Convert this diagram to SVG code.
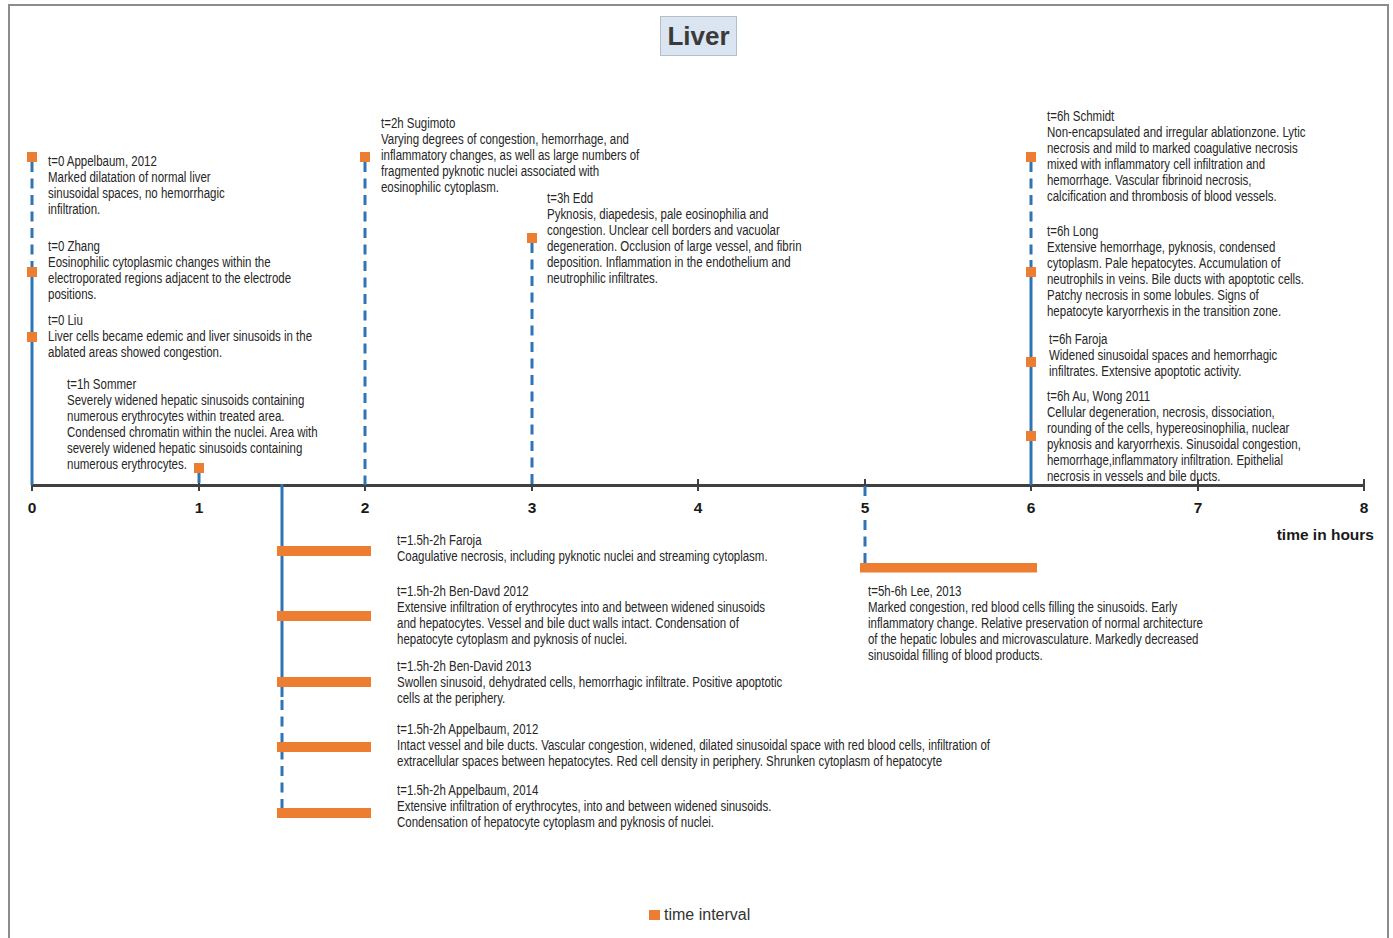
<svg xmlns="http://www.w3.org/2000/svg" width="1393" height="938" viewBox="0 0 1393 938">
<style>
.t{font-family:"Liberation Sans",Arial,sans-serif;font-size:14px;fill:#262626}
.ax{font-family:"Liberation Sans",Arial,sans-serif;font-size:15.5px;font-weight:bold;fill:#1a1a1a}
.sq{fill:#ed7d31}
.bar{fill:#ed7d31}
.sol{stroke:#2e75b6;stroke-width:3;fill:none}
.dsh{stroke:#2e75b6;stroke-width:3;fill:none;stroke-dasharray:10 6.5}
.axis{stroke:#404040;stroke-width:3;fill:none}
.tick{stroke:#404040;stroke-width:2;fill:none}
</style>
<rect x="0" y="0" width="1393" height="938" fill="#ffffff"/>
<rect x="9" y="5" width="1379" height="945" fill="none" stroke="#8c8c8c" stroke-width="2"/>

<g id="title">
<rect x="660.5" y="16.5" width="76" height="39" fill="#dbe5f1" stroke="#b4bfcc" stroke-width="1"/>
<text x="698.5" y="45" text-anchor="middle" style="font-family:'Liberation Sans',Arial,sans-serif;font-size:26px;font-weight:bold;fill:#3a3a3a">Liver</text>
</g>

<g id="connectors">
<path class="axis" d="M32 485.5H1365"/>
<path class="tick" d="M32 479V491M199 479V491M365 479V491M532 479V491M698 479V491M865 479V491M1031 479V491M1198 479V491M1364 479V491"/>
<path class="dsh" d="M32 162V263"/>
<path class="sol" d="M32 263V485"/>
<path class="dsh" d="M199 473V485"/>
<path class="dsh" d="M365 162V485"/>
<path class="dsh" d="M532 243V485"/>
<path class="dsh" d="M1031 162V260"/>
<path class="sol" d="M1031 260V485"/>
<path class="sol" d="M282 484V697"/>
<path class="dsh" d="M282 700V810"/>
<path class="dsh" d="M865 486V496"/>
<path class="dsh" d="M865 520V563"/>
</g>

<g id="axis-labels">
<text class="ax" x="32" y="513" text-anchor="middle">0</text>
<text class="ax" x="199" y="513" text-anchor="middle">1</text>
<text class="ax" x="365" y="513" text-anchor="middle">2</text>
<text class="ax" x="532" y="513" text-anchor="middle">3</text>
<text class="ax" x="698" y="513" text-anchor="middle">4</text>
<text class="ax" x="865" y="513" text-anchor="middle">5</text>
<text class="ax" x="1031" y="513" text-anchor="middle">6</text>
<text class="ax" x="1198" y="513" text-anchor="middle">7</text>
<text class="ax" x="1364" y="513" text-anchor="middle">8</text>
<text class="ax" x="1374" y="540" text-anchor="end">time in hours</text>
</g>

<g id="n-appelbaum-2012-t0">
<rect class="sq" x="27" y="152" width="10" height="10"/>
<text class="t" x="48" y="166" transform="matrix(0.82 0 0 1 8.64 0)"><tspan x="48">t=0 Appelbaum, 2012</tspan><tspan x="48" dy="16">Marked dilatation of normal liver</tspan><tspan x="48" dy="16">sinusoidal spaces, no hemorrhagic</tspan><tspan x="48" dy="16">infiltration.</tspan></text>
</g>

<g id="n-zhang">
<rect class="sq" x="27" y="267" width="10" height="10"/>
<text class="t" x="48" y="251" transform="matrix(0.82 0 0 1 8.64 0)"><tspan x="48">t=0 Zhang</tspan><tspan x="48" dy="16">Eosinophilic cytoplasmic changes within the</tspan><tspan x="48" dy="16">electroporated regions adjacent to the electrode</tspan><tspan x="48" dy="16">positions.</tspan></text>
</g>

<g id="n-liu">
<rect class="sq" x="27" y="332" width="10" height="10"/>
<text class="t" x="48" y="325" transform="matrix(0.82 0 0 1 8.64 0)"><tspan x="48">t=0 Liu</tspan><tspan x="48" dy="16">Liver cells became edemic and liver sinusoids in the</tspan><tspan x="48" dy="16">ablated areas showed congestion.</tspan></text>
</g>

<g id="n-sommer">
<rect class="sq" x="194" y="463" width="10" height="10"/>
<text class="t" x="67" y="389" transform="matrix(0.82 0 0 1 12.06 0)"><tspan x="67">t=1h Sommer</tspan><tspan x="67" dy="16">Severely widened hepatic sinusoids containing</tspan><tspan x="67" dy="16">numerous erythrocytes within treated area.</tspan><tspan x="67" dy="16">Condensed chromatin within the nuclei. Area with</tspan><tspan x="67" dy="16">severely widened hepatic sinusoids containing</tspan><tspan x="67" dy="16">numerous erythrocytes.</tspan></text>
</g>

<g id="n-sugimoto">
<rect class="sq" x="360" y="152" width="10" height="10"/>
<text class="t" x="381" y="128" transform="matrix(0.82 0 0 1 68.58 0)"><tspan x="381">t=2h Sugimoto</tspan><tspan x="381" dy="16">Varying degrees of congestion, hemorrhage, and</tspan><tspan x="381" dy="16">inflammatory changes, as well as large numbers of</tspan><tspan x="381" dy="16">fragmented pyknotic nuclei associated with</tspan><tspan x="381" dy="16">eosinophilic cytoplasm.</tspan></text>
</g>

<g id="n-edd">
<rect class="sq" x="527" y="233" width="10" height="10"/>
<text class="t" x="547" y="203" transform="matrix(0.82 0 0 1 98.46 0)"><tspan x="547">t=3h Edd</tspan><tspan x="547" dy="16">Pyknosis, diapedesis, pale eosinophilia and</tspan><tspan x="547" dy="16">congestion. Unclear cell borders and vacuolar</tspan><tspan x="547" dy="16">degeneration. Occlusion of large vessel, and fibrin</tspan><tspan x="547" dy="16">deposition. Inflammation in the endothelium and</tspan><tspan x="547" dy="16">neutrophilic infiltrates.</tspan></text>
</g>

<g id="n-schmidt">
<rect class="sq" x="1026" y="152" width="10" height="10"/>
<text class="t" x="1047" y="121" transform="matrix(0.82 0 0 1 188.46 0)"><tspan x="1047">t=6h Schmidt</tspan><tspan x="1047" dy="16">Non-encapsulated and irregular ablationzone. Lytic</tspan><tspan x="1047" dy="16">necrosis and mild to marked coagulative necrosis</tspan><tspan x="1047" dy="16">mixed with inflammatory cell infiltration and</tspan><tspan x="1047" dy="16">hemorrhage. Vascular fibrinoid necrosis,</tspan><tspan x="1047" dy="16">calcification and thrombosis of blood vessels.</tspan></text>
</g>

<g id="n-long">
<rect class="sq" x="1026" y="267" width="10" height="10"/>
<text class="t" x="1047" y="236" transform="matrix(0.82 0 0 1 188.46 0)"><tspan x="1047">t=6h Long</tspan><tspan x="1047" dy="16">Extensive hemorrhage, pyknosis, condensed</tspan><tspan x="1047" dy="16">cytoplasm. Pale hepatocytes. Accumulation of</tspan><tspan x="1047" dy="16">neutrophils in veins. Bile ducts with apoptotic cells.</tspan><tspan x="1047" dy="16">Patchy necrosis in some lobules. Signs of</tspan><tspan x="1047" dy="16">hepatocyte karyorrhexis in the transition zone.</tspan></text>
</g>

<g id="n-faroja-6h">
<rect class="sq" x="1026" y="357" width="10" height="10"/>
<text class="t" x="1049" y="344" transform="matrix(0.82 0 0 1 188.82 0)"><tspan x="1049">t=6h Faroja</tspan><tspan x="1049" dy="16">Widened sinusoidal spaces and hemorrhagic</tspan><tspan x="1049" dy="16">infiltrates. Extensive apoptotic activity.</tspan></text>
</g>

<g id="n-au-wong">
<rect class="sq" x="1026" y="431" width="10" height="10"/>
<text class="t" x="1047" y="401" transform="matrix(0.82 0 0 1 188.46 0)"><tspan x="1047">t=6h Au, Wong 2011</tspan><tspan x="1047" dy="16">Cellular degeneration, necrosis, dissociation,</tspan><tspan x="1047" dy="16">rounding of the cells, hypereosinophilia, nuclear</tspan><tspan x="1047" dy="16">pyknosis and karyorrhexis. Sinusoidal congestion,</tspan><tspan x="1047" dy="16">hemorrhage,inflammatory infiltration. Epithelial</tspan><tspan x="1047" dy="16">necrosis in vessels and bile ducts.</tspan></text>
</g>

<g id="n-faroja-15h">
<rect class="bar" x="277" y="546" width="94" height="10"/>
<text class="t" x="397" y="545" transform="matrix(0.82 0 0 1 71.46 0)"><tspan x="397">t=1.5h-2h Faroja</tspan><tspan x="397" dy="16">Coagulative necrosis, including pyknotic nuclei and streaming cytoplasm.</tspan></text>
</g>

<g id="n-ben-david-2012">
<rect class="bar" x="277" y="611" width="94" height="10"/>
<text class="t" x="397" y="596" transform="matrix(0.82 0 0 1 71.46 0)"><tspan x="397">t=1.5h-2h Ben-Davd 2012</tspan><tspan x="397" dy="16">Extensive infiltration of erythrocytes into and between widened sinusoids</tspan><tspan x="397" dy="16">and hepatocytes. Vessel and bile duct walls intact. Condensation of</tspan><tspan x="397" dy="16">hepatocyte cytoplasm and pyknosis of nuclei.</tspan></text>
</g>

<g id="n-ben-david-2013">
<rect class="bar" x="277" y="677" width="94" height="10"/>
<text class="t" x="397" y="671" transform="matrix(0.82 0 0 1 71.46 0)"><tspan x="397">t=1.5h-2h Ben-David 2013</tspan><tspan x="397" dy="16">Swollen sinusoid, dehydrated cells, hemorrhagic infiltrate. Positive apoptotic</tspan><tspan x="397" dy="16">cells at the periphery.</tspan></text>
</g>

<g id="n-appelbaum-2012-15h">
<rect class="bar" x="277" y="742" width="94" height="10"/>
<text class="t" x="397" y="734" transform="matrix(0.82 0 0 1 71.46 0)"><tspan x="397">t=1.5h-2h Appelbaum, 2012</tspan><tspan x="397" dy="16">Intact vessel and bile ducts. Vascular congestion, widened, dilated sinusoidal space with red blood cells, infiltration of</tspan><tspan x="397" dy="16">extracellular spaces between hepatocytes. Red cell density in periphery. Shrunken cytoplasm of hepatocyte</tspan></text>
</g>

<g id="n-appelbaum-2014">
<rect class="bar" x="277" y="808" width="94" height="10"/>
<text class="t" x="397" y="795" transform="matrix(0.82 0 0 1 71.46 0)"><tspan x="397">t=1.5h-2h Appelbaum, 2014</tspan><tspan x="397" dy="16">Extensive infiltration of erythrocytes, into and between widened sinusoids.</tspan><tspan x="397" dy="16">Condensation of hepatocyte cytoplasm and pyknosis of nuclei.</tspan></text>
</g>

<g id="n-lee-2013">
<rect class="bar" x="860" y="563" width="177" height="9.5"/>
<text class="t" x="868" y="596" transform="matrix(0.82 0 0 1 156.24 0)"><tspan x="868">t=5h-6h Lee, 2013</tspan><tspan x="868" dy="16">Marked congestion, red blood cells filling the sinusoids. Early</tspan><tspan x="868" dy="16">inflammatory change. Relative preservation of normal architecture</tspan><tspan x="868" dy="16">of the hepatic lobules and microvasculature. Markedly decreased</tspan><tspan x="868" dy="16">sinusoidal filling of blood products.</tspan></text>
</g>

<g id="legend">
<rect class="sq" x="649" y="910" width="11" height="10"/>
<text x="664" y="920" style="font-family:'Liberation Sans',Arial,sans-serif;font-size:16px;fill:#333">time interval</text>
</g>
</svg>
